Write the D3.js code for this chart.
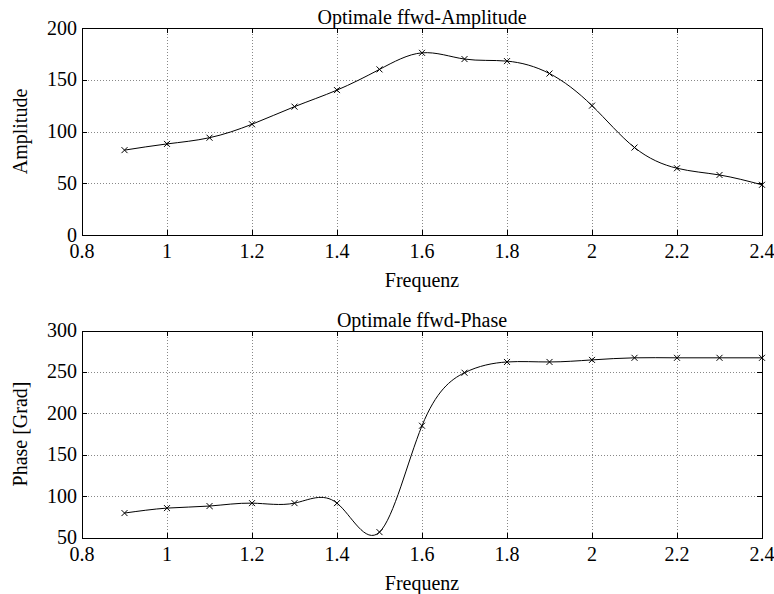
<!DOCTYPE html>
<meta charset="utf-8">
<head>
  <meta charset="utf-8">
  <title>Optimale ffwd</title>
  <style>
    body { margin: 0; background: #fff; }
    svg { display: block; }
    text { font-family: "Liberation Serif", "Times New Roman", serif; font-size: 20px; fill: #000; }
    .grid line { stroke: #888; stroke-dasharray: 1,2; shape-rendering: crispEdges; }
    .frame { fill: none; stroke: #000; stroke-width: 1; shape-rendering: crispEdges; }
    .tick-mark { stroke: #000; stroke-width: 1; shape-rendering: crispEdges; }
    .curve { fill: none; stroke: #000; stroke-width: 1; }
    .marker { stroke: #000; stroke-width: 1; }
  </style>
</head>
<body>
<div id="chart"></div>
<script src="https://d3js.org/d3.v7.min.js"></script>
<script>

// data
var freq = [0.9, 1.0, 1.1, 1.2, 1.3, 1.4, 1.5, 1.6, 1.7, 1.8, 1.9, 2.0, 2.1, 2.2, 2.3, 2.4];
var amplitude = [82, 88, 94, 107, 124, 140, 160, 176, 170, 168, 156, 125, 84.5, 64.5, 58, 48.5];
var phase = [79.5, 85.5, 88, 91.5, 91.5, 91.5, 56.5, 185, 249, 262, 262, 264.5, 267, 267, 267, 267];

var xTicks = [0.8, 1, 1.2, 1.4, 1.6, 1.8, 2, 2.2, 2.4];
var ampTicks = [0, 50, 100, 150, 200];
var phaseTicks = [50, 100, 150, 200, 250, 300];

var W = 774, H = 594;
var left = 82, right = 762;

var svg = d3.select("#chart").append("svg")
  .attr("width", W)
  .attr("height", H);

// one subplot
function drawPanel(opts) {
  var x = d3.scaleLinear().domain([0.8, 2.4]).range([left, right]);
  var y = d3.scaleLinear().domain(opts.yDomain).range([opts.bottom, opts.top]);
  var g = svg.append("g");

  // grid, dotted
  var grid = g.append("g").attr("class", "grid");
  grid.selectAll(".gx").data(xTicks.slice(1, -1)).enter().append("line")
    .attr("x1", function(d) { return Math.round(x(d)) + 0.5; })
    .attr("x2", function(d) { return Math.round(x(d)) + 0.5; })
    .attr("y1", opts.top).attr("y2", opts.bottom);
  grid.selectAll(".gy").data(opts.yTicks.slice(1, -1)).enter().append("line")
    .attr("y1", function(d) { return Math.round(y(d)) + 0.5; })
    .attr("y2", function(d) { return Math.round(y(d)) + 0.5; })
    .attr("x1", left).attr("x2", right);

  // inward tick marks on all four sides
  var tl = 5;
  xTicks.forEach(function(t) {
    var px = Math.round(x(t)) + 0.5;
    g.append("line").attr("class", "tick-mark").attr("x1", px).attr("x2", px)
      .attr("y1", opts.bottom).attr("y2", opts.bottom - tl);
    g.append("line").attr("class", "tick-mark").attr("x1", px).attr("x2", px)
      .attr("y1", opts.top).attr("y2", opts.top + tl);
    g.append("text")
      .attr("x", x(t))
      .attr("y", opts.bottom + 23)
      .attr("text-anchor", "middle")
      .text(d3.format("")(t));
  });
  opts.yTicks.forEach(function(t) {
    var py = Math.round(y(t)) + 0.5;
    g.append("line").attr("class", "tick-mark").attr("x1", left).attr("x2", left + tl)
      .attr("y1", py).attr("y2", py);
    g.append("line").attr("class", "tick-mark").attr("x1", right).attr("x2", right - tl)
      .attr("y1", py).attr("y2", py);
    g.append("text")
      .attr("x", left - 5)
      .attr("y", y(t) + 6.5)
      .attr("text-anchor", "end")
      .text(t);
  });

  // box
  g.append("rect").attr("class", "frame")
    .attr("x", left + 0.5).attr("y", Math.round(opts.top) + 0.5)
    .attr("width", right - left).attr("height", Math.round(opts.bottom) - Math.round(opts.top));

  // spline through the points
  var pts = freq.map(function(f, i) { return [f, opts.values[i]]; });
  var line = d3.line()
    .x(function(d) { return x(d[0]); })
    .y(function(d) { return y(d[1]); })
    .curve(d3.curveNatural);
  g.append("path").attr("class", "curve").attr("d", line(pts));

  // x markers
  var m = 3;
  g.selectAll(".mk").data(pts).enter().append("path")
    .attr("class", "marker")
    .attr("d", function(d) {
      var cx = x(d[0]), cy = y(d[1]);
      return "M" + (cx - m) + "," + (cy - m) + "L" + (cx + m) + "," + (cy + m) +
             "M" + (cx - m) + "," + (cy + m) + "L" + (cx + m) + "," + (cy - m);
    });

  // labels
  g.append("text")
    .attr("x", (left + right) / 2)
    .attr("y", opts.top - 4)
    .attr("text-anchor", "middle")
    .text(opts.title);
  g.append("text")
    .attr("x", (left + right) / 2)
    .attr("y", opts.bottom + 52)
    .attr("text-anchor", "middle")
    .text("Frequenz");
  g.append("text")
    .attr("transform", "translate(27," + ((opts.top + opts.bottom) / 2) + ") rotate(-90)")
    .attr("text-anchor", "middle")
    .text(opts.ylabel);
}

drawPanel({
  top: 28, bottom: 235,
  yDomain: [0, 200], yTicks: ampTicks,
  values: amplitude,
  title: "Optimale ffwd-Amplitude",
  ylabel: "Amplitude"
});

drawPanel({
  top: 330.5, bottom: 537.5,
  yDomain: [50, 300], yTicks: phaseTicks,
  values: phase,
  title: "Optimale ffwd-Phase",
  ylabel: "Phase [Grad]"
});

</script>
</body>
